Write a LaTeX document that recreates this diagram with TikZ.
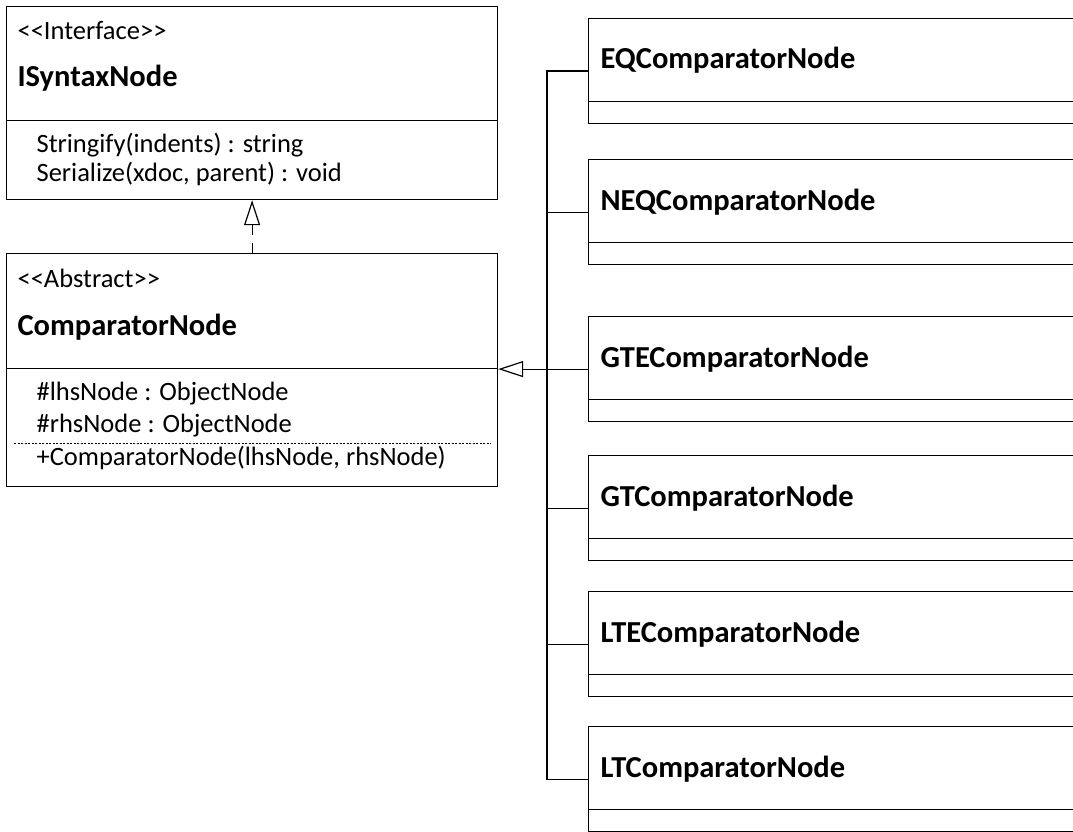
\documentclass[tikz,border=0pt]{standalone}
\usepackage{fontspec}
\setmainfont{Carlito}[Ligatures=TeXOff]

\usetikzlibrary{arrows.meta}

\begin{document}
\begin{tikzpicture}[x=1pt,y=-1pt,line width=1.2pt,
	classbox/.style={draw,rectangle,anchor=north west,inner sep=0pt},
	stereo/.style={anchor=base west,inner sep=0pt,font=\fontsize{26.5}{30}\selectfont},
	member/.style={anchor=base west,inner sep=0pt,font=\fontsize{26.5}{30}\selectfont},
	cname/.style={anchor=base west,inner sep=0pt,font=\fontsize{30.5}{34}\selectfont\bfseries},
	generalize/.style={-{Triangle[open,length=25pt,width=16pt]}},
	realize/.style={generalize,dash pattern=on 10pt off 8pt}]
\clip (0,0) rectangle (1073,832);

\node[classbox,minimum width=491,minimum height=193] (isyn) at (6,6) {};
\draw ([yshift=80pt]isyn.south west) -- ([yshift=80pt]isyn.south east);
\node[stereo] (isyn st) at (17,40) {<<Interface>>};
\node[cname] (isyn name) at (17,87) {ISyntaxNode};
\node[member] (isyn m1) at (36,152) {Stringify(indents) : string};
\node[member] (isyn m2) at (36,181) {Serialize(xdoc, parent) : void};

\node[classbox,minimum width=491,minimum height=233] (comp) at (6,253) {};
\draw ([yshift=119pt]comp.south west) -- ([yshift=119pt]comp.south east);
\draw[line width=0.8pt,dash pattern=on 2pt off 1.5pt]
	([xshift=8pt,yshift=44pt]comp.south west) -- ([xshift=-8pt,yshift=44pt]comp.south east);
\node[stereo] (comp st) at (17,287) {<<Abstract>>};
\node[cname] (comp name) at (17,335) {ComparatorNode};
\node[member] (comp a1) at (36,400) {\#lhsNode : ObjectNode};
\node[member] (comp a2) at (36,432) {\#rhsNode : ObjectNode};
\node[member] (comp m1) at (36,465) {+ComparatorNode(lhsNode, rhsNode)};

\foreach \n/\t/\y in {eq/EQ/18,neq/NEQ/159,gte/GTE/316,gt/GT/455,lte/LTE/591,lt/LT/726}{
	\node[classbox,minimum width=600,minimum height=105] (\n) at (588,\y) {};
	\draw ([yshift=23pt]\n.south west) -- ([yshift=23pt]\n.south east);
	\node[cname] (\n name) at (600,\y+51) {\t ComparatorNode};
}

\coordinate (bus) at (547,0);
\draw (eq.west) -- (eq.west -| bus) -- (lt.west -| bus) -- (lt.west);
\foreach \n in {neq,gt,lte}
	\draw (\n.west) -- (\n.west -| bus);
\draw[generalize] (gte.west) -- (gte.west -| comp.east);
\draw[realize] (comp.north) -- (isyn.south);
\end{tikzpicture}
\end{document}
